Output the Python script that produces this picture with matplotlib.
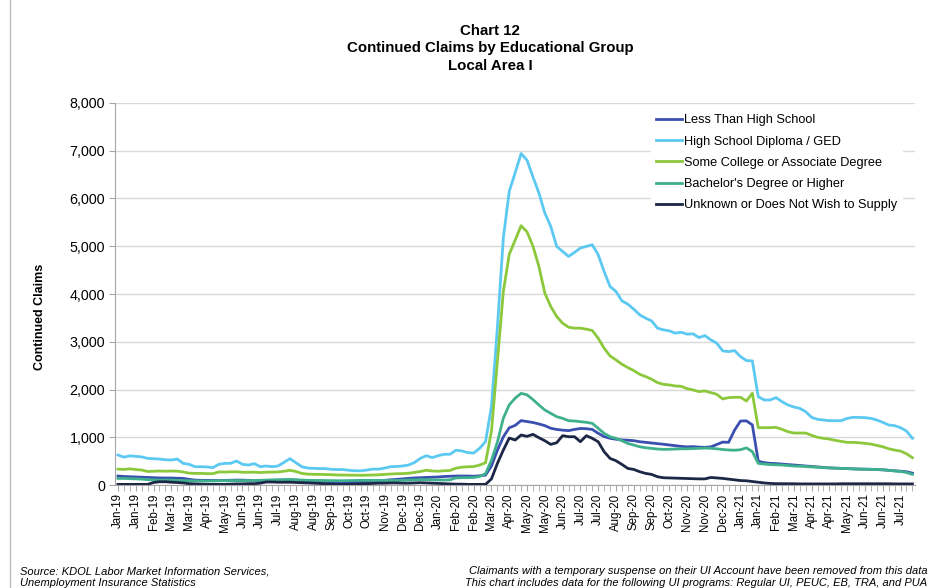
import pandas as pd
import matplotlib
matplotlib.use("Agg")
import matplotlib.pyplot as plt
from matplotlib import font_manager
from matplotlib.lines import Line2D
from matplotlib.ticker import FuncFormatter, MultipleLocator

plt.rcParams['font.family'] = ['Liberation Sans', 'DejaVu Sans']

# weekly continued claims, week ending Sat 5 Jan 2019 onward
first_week = "2019-01-05"
n_weeks = 135

less_than_hs = [
    190, 180, 175, 170, 165, 160, 155, 150, 150, 148,
    145, 140, 120, 105, 100, 98, 95, 95, 98, 100,
    105, 102, 100, 98, 95, 95, 98, 100, 105, 110,
    105, 95, 88, 82, 78, 75, 72, 70, 68, 68,
    70, 72, 75, 80, 90, 100, 110, 120, 130, 140,
    150, 155, 160, 165, 170, 180, 185, 190, 190, 190,
    185, 195, 210, 400, 730, 1010, 1200, 1250, 1350, 1330,
    1310, 1280, 1245, 1190, 1165, 1150, 1140, 1165, 1185, 1180,
    1165, 1085, 1015, 980, 960, 945, 940, 930, 908, 895,
    880, 870, 855, 840, 825, 810, 800, 805, 795, 790,
    800, 850, 900, 895, 1150, 1340, 1345, 1260, 500, 470,
    455, 450, 440, 430, 420, 410, 400, 390, 380, 370,
    360, 355, 350, 345, 340, 335, 335, 330, 325, 320,
    310, 300, 290, 280, 250,
]
hs_diploma = [
    630, 585, 612, 600, 590, 560, 553, 545, 530, 525,
    545, 455, 435, 385, 385, 380, 365, 435, 455, 455,
    505, 435, 420, 450, 385, 400, 385, 400, 475, 553,
    470, 385, 357, 350, 345, 345, 330, 325, 325, 310,
    300, 300, 315, 335, 335, 357, 385, 390, 400, 420,
    470, 560, 615, 575, 615, 645, 645, 730, 715, 680,
    670, 770, 910, 1650, 3300, 5170, 6150, 6540, 6940, 6800,
    6450, 6115, 5695, 5415, 4996, 4890, 4786, 4870, 4962, 4996,
    5031, 4822, 4472, 4157, 4053, 3857, 3787, 3683, 3564, 3494,
    3438, 3285, 3250, 3228, 3180, 3200, 3159, 3166, 3088, 3130,
    3040, 2970, 2809, 2795, 2816, 2690, 2606, 2600, 1851, 1782,
    1782, 1831, 1747, 1677, 1635, 1607, 1537, 1418, 1376, 1362,
    1348, 1348, 1348, 1397, 1418, 1418, 1411, 1397, 1362, 1313,
    1258, 1244, 1202, 1132, 979,
]
some_college = [
    335, 328, 340, 325, 315, 285, 290, 295, 290, 295,
    292, 275, 250, 245, 245, 240, 240, 275, 273, 278,
    280, 268, 268, 270, 262, 270, 272, 275, 290, 310,
    285, 245, 230, 225, 225, 222, 218, 212, 210, 208,
    205, 205, 208, 210, 215, 225, 232, 238, 240, 248,
    265, 285, 310, 295, 290, 300, 305, 355, 375, 384,
    388, 420, 468, 1130, 2600, 4050, 4830, 5130, 5430, 5300,
    5000, 4577, 4019, 3738, 3529, 3389, 3305, 3285, 3285, 3264,
    3236, 3075, 2865, 2704, 2620, 2530, 2460, 2397, 2320, 2271,
    2216, 2145, 2110, 2096, 2075, 2068, 2019, 1992, 1957, 1971,
    1936, 1901, 1803, 1831, 1838, 1838, 1761, 1922, 1202, 1202,
    1202, 1209, 1167, 1118, 1090, 1090, 1090, 1041, 1000, 979,
    964, 936, 915, 894, 894, 887, 873, 859, 831, 803,
    761, 733, 712, 657, 573,
]
bachelors = [
    140, 140, 135, 130, 125, 115, 110, 105, 105, 105,
    100, 95, 90, 88, 85, 85, 88, 90, 92, 95,
    95, 92, 95, 98, 100, 105, 110, 112, 115, 118,
    112, 105, 100, 98, 95, 95, 92, 92, 92, 95,
    98, 100, 100, 102, 100, 98, 95, 95, 100, 105,
    110, 115, 112, 110, 105, 105, 110, 150, 155, 155,
    160, 180, 240, 520, 900, 1400, 1680, 1820, 1920, 1890,
    1790, 1677, 1572, 1503, 1432, 1398, 1348, 1341, 1327, 1314,
    1293, 1188, 1083, 1013, 979, 929, 873, 838, 803, 782,
    769, 755, 748, 750, 755, 760, 760, 765, 770, 775,
    770, 760, 745, 735, 730, 740, 780, 700, 455, 440,
    430, 425, 420, 410, 400, 395, 390, 380, 375, 365,
    360, 355, 350, 345, 340, 335, 330, 330, 325, 320,
    310, 295, 285, 265, 225,
]
unknown = [
    15, 15, 15, 15, 15, 15, 55, 70, 70, 60,
    55, 45, 30, 25, 20, 15, 15, 15, 15, 20,
    25, 25, 30, 30, 40, 65, 65, 60, 60, 60,
    55, 50, 45, 40, 35, 25, 20, 15, 15, 15,
    20, 25, 30, 35, 40, 40, 45, 45, 40, 40,
    45, 50, 45, 40, 35, 30, 25, 20, 20, 15,
    15, 15, 15, 130, 454, 733, 985, 943, 1048, 1020,
    1062, 992, 929, 852, 887, 1034, 1013, 1013, 908, 1034,
    979, 908, 699, 559, 510, 433, 349, 328, 280, 245,
    224, 175, 154, 150, 145, 140, 140, 135, 130, 130,
    160, 150, 140, 125, 110, 95, 90, 75, 60, 45,
    35, 30, 30, 28, 28, 25, 25, 25, 25, 25,
    25, 25, 28, 28, 30, 30, 30, 30, 28, 28,
    28, 25, 25, 25, 25,
]

series = [
    ("Less Than High School", less_than_hs, "#3a4fb0"),
    ("High School Diploma / GED", hs_diploma, "#5bc9f1"),
    ("Some College or Associate Degree", some_college, "#8cc83c"),
    ("Bachelor's Degree or Higher", bachelors, "#3fb08e"),
    ("Unknown or Does Not Wish to Supply", unknown, "#1c2746"),
]

weeks = pd.date_range(first_week, periods=n_weeks, freq="7D")
x = list(range(n_weeks))

fig = plt.figure(figsize=(9.35, 5.88), dpi=100)
ax = fig.add_axes([0.123, 0.175, 0.856, 0.650])

for name, vals, col in series:
    ax.plot(x, vals, color=col, lw=2.0, label=name, solid_joinstyle="round")

ax.set_xlim(-0.5, n_weeks - 0.5)
ax.set_ylim(0, 8000)
ax.yaxis.set_major_locator(MultipleLocator(1000))
ax.yaxis.set_major_formatter(FuncFormatter(lambda v, p: f"{int(v):,}"))
ax.grid(axis="y", color="#d9d9d9", lw=1.0)
ax.set_axisbelow(True)

tick_pos = x[::3]
ax.set_xticks(tick_pos)
ax.set_xticklabels([weeks[i].strftime("%b-%y") for i in tick_pos],
                   rotation=90, fontsize=8.3)
ax.xaxis.set_minor_locator(MultipleLocator(1))
ax.tick_params(axis="x", which="both", direction="out", length=4,
               color="#a6a6a6", pad=2)
ax.tick_params(axis="y", direction="out", length=4, color="#a6a6a6",
               labelsize=10.3, pad=3)

for s in ("top", "right"):
    ax.spines[s].set_visible(False)
for s in ("left", "bottom"):
    ax.spines[s].set_color("#a6a6a6")

ax.set_ylabel("Continued Claims", fontsize=9, fontweight="bold")
ax.yaxis.set_label_coords(-0.086, 0.44)

leg = ax.legend(loc="upper left", bbox_to_anchor=(0.662, 1.0),
                fontsize=9.2, frameon=True, fancybox=False,
                handlelength=2.0, handletextpad=0.15, labelspacing=0.72,
                borderpad=0.4)
leg.get_frame().set_facecolor("white")
leg.get_frame().set_edgecolor("white")
leg.get_frame().set_alpha(1)

fig.text(0.524, 0.918, "Chart 12\nContinued Claims by Educational Group\nLocal Area I",
         ha="center", va="center", fontsize=10.8, fontweight="bold",
         linespacing=1.3)

names = {f.name for f in font_manager.fontManager.ttflist}
foot_font = "Liberation Sans Narrow" if "Liberation Sans Narrow" in names else "Liberation Sans"
fig.text(0.021, 0.0,
         "Source: KDOL Labor Market Information Services,\nUnemployment Insurance Statistics",
         ha="left", va="bottom", fontsize=8, style="italic", family=foot_font,
         linespacing=1.25)
fig.text(0.992, 0.0,
         "Claimants with a temporary suspense on their UI Account have been removed from this data\n"
         "This chart includes data for the following UI programs: Regular UI, PEUC, EB, TRA, and PUA",
         ha="right", va="bottom", fontsize=8, style="italic", family=foot_font,
         multialignment="right", linespacing=1.25)

# chart frame edge on the left
fig.add_artist(Line2D([0.011, 0.011], [0, 1], transform=fig.transFigure,
                      color="#bfbfbf", lw=1))

fig.savefig("out.png", dpi=100)
